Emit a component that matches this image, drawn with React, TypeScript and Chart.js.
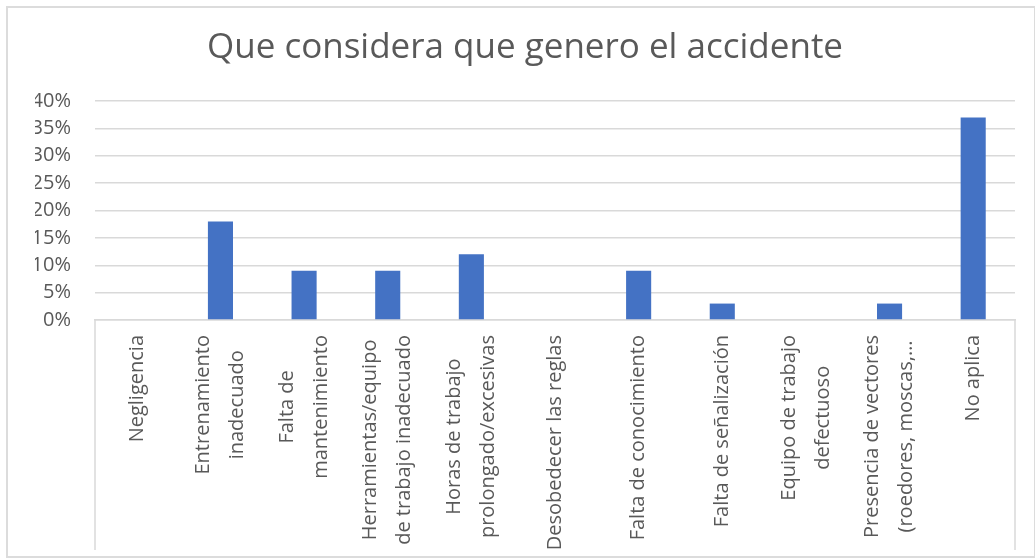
import { useEffect, useRef } from "react";
import { Chart, registerables } from "chart.js";

Chart.register(...registerables);

const chartTitle = "Que considera que genero el accidente";
const categories: string[][] = [
  ["Negligencia"],
  ["Entrenamiento", "inadecuado"],
  ["Falta de", "mantenimiento"],
  ["Herramientas/equipo", "de trabajo inadecuado"],
  ["Horas de trabajo", "prolongado/excesivas"],
  ["Desobedecer las reglas"],
  ["Falta de conocimiento"],
  ["Falta de señalización"],
  ["Equipo de trabajo", "defectuoso"],
  ["Presencia de vectores", "(roedores, moscas,…"],
  ["No aplica"],
];
const values = [0, 18, 9, 9, 12, 0, 9, 3, 0, 3, 37];
const yMin = 0;
const yMax = 40;
const yStep = 5;

const FONT = "'Open Sans', sans-serif";
const TEXT = "#595959";
const BAR = "#4472C4";
const GRID = "#d9d9d9";
const LABEL_SIZE = 20;
const LABEL_LINE = 34;

export default function App() {
  const ref = useRef<HTMLCanvasElement>(null);

  useEffect(() => {
    if (!ref.current) return;
    const labelPlugin = {
      id: "rotLabels",
      afterDraw(chart: any) {
        const { ctx, chartArea, scales } = chart;
        const xs = scales.x;
        ctx.save();
        ctx.strokeStyle = GRID;
        ctx.lineWidth = 1.5;
        [chartArea.left, chartArea.right].forEach((px: number) => {
          ctx.beginPath();
          ctx.moveTo(px, chartArea.bottom);
          ctx.lineTo(px, chartArea.bottom + 230);
          ctx.stroke();
        });
        ctx.font = `${LABEL_SIZE}px ${FONT}`;
        ctx.fillStyle = TEXT;
        ctx.textAlign = "center";
        ctx.textBaseline = "middle";
        categories.forEach((lines, i) => {
          const cx = xs.getPixelForValue(i);
          const maxW = Math.max(...lines.map((l) => ctx.measureText(l).width));
          const cy = chartArea.bottom + 15 + maxW / 2;
          lines.forEach((l, j) => {
            const lx = cx + (j - (lines.length - 1) / 2) * LABEL_LINE;
            ctx.save();
            ctx.translate(lx, cy);
            ctx.rotate(-Math.PI / 2);
            ctx.fillText(l, 0, 0);
            ctx.restore();
          });
        });
        ctx.restore();
      },
    };

    const chart = new Chart(ref.current, {
      type: "bar",
      data: {
        labels: categories.map((c) => c.join(" ")),
        datasets: [
          {
            data: values,
            backgroundColor: BAR,
            barPercentage: 0.3,
            categoryPercentage: 1,
          },
        ],
      },
      options: {
        responsive: false,
        animation: false,
        layout: { padding: { left: 35, right: 20, top: 0, bottom: 0 } },
        plugins: {
          legend: { display: false },
          tooltip: { enabled: false },
          title: {
            display: true,
            text: chartTitle,
            color: TEXT,
            font: { family: FONT, size: 35, weight: "normal" },
            padding: { top: 27, bottom: 32 },
          },
        },
        scales: {
          x: {
            grid: { display: false, drawTicks: false },
            border: { display: true, color: GRID, width: 1.5 },
            ticks: { display: false },
            afterFit(scale: any) {
              scale.height = 239;
            },
          },
          y: {
            min: yMin,
            max: yMax,
            grid: { color: GRID, lineWidth: 1.5, drawTicks: false },
            border: { display: false },
            ticks: {
              stepSize: yStep,
              padding: 24,
              color: TEXT,
              font: { family: FONT, size: 20 },
              callback: (v: any) => `${v}%`,
            },
            afterFit(scale: any) {
              scale.width = 60;
            },
          },
        },
      },
      plugins: [labelPlugin],
    });
    return () => chart.destroy();
  }, []);

  return (
    <div
      style={{
        position: "fixed",
        left: 0,
        top: 0,
        width: 1035,
        height: 559,
        background: "#fff",
      }}
    >
      <canvas ref={ref} width={1035} height={559} style={{ position: "absolute", left: 0, top: 0 }} />
      <div
        style={{
          position: "absolute",
          left: 6,
          top: 6,
          width: 1026,
          height: 548,
          border: "2px solid #dcdcdc",
          pointerEvents: "none",
        }}
      />
    </div>
  );
}
